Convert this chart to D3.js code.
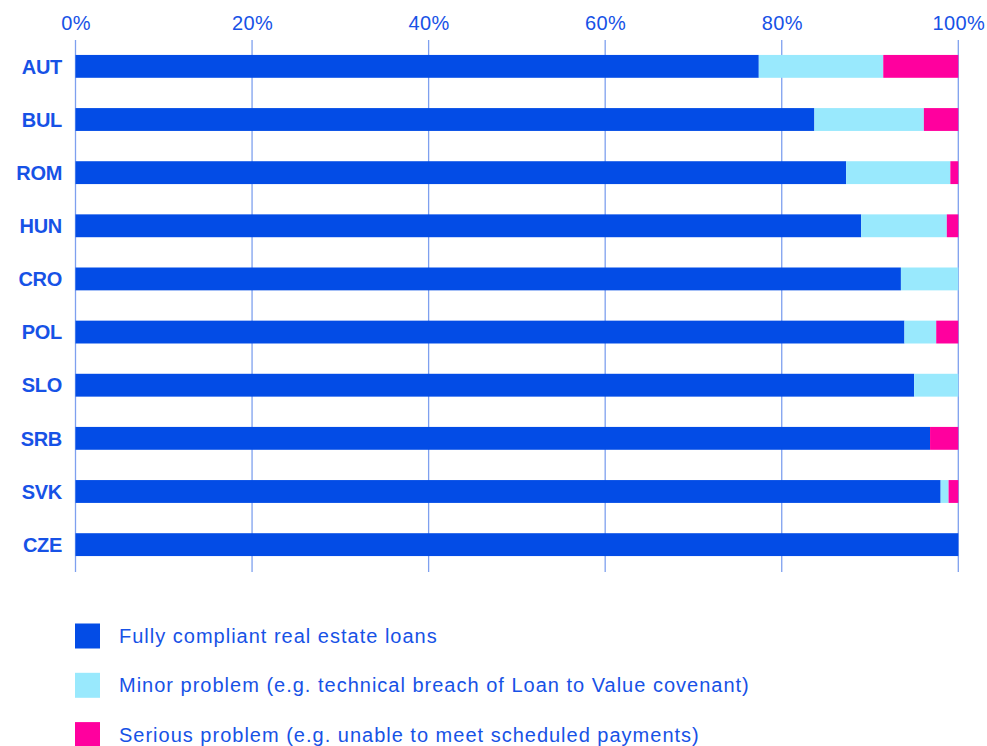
<!DOCTYPE html>
<html>
<head>
<meta charset="utf-8">
<script src="https://cdn.jsdelivr.net/npm/d3@7"></script>
<style>
  html, body { margin: 0; padding: 0; background: #fff; }
  svg { display: block; font-family: "Liberation Sans", Arial, sans-serif; }
</style>
</head>
<body>
<svg id="chart" width="987" height="746"></svg>
<script>
// Share of real estate loans by compliance status, per country (percent)
const countries = ["AUT", "BUL", "ROM", "HUN", "CRO", "POL", "SLO", "SRB", "SVK", "CZE"];
const fullyCompliant = [77.4, 83.7, 87.3, 89.0, 93.5, 93.9, 95.0, 96.8, 98.0, 100];
const minorProblem   = [14.1, 12.4, 11.8, 9.7, 6.5, 3.6, 5.0, 0.0, 0.9, 0];
const seriousProblem = [8.5, 3.9, 0.9, 1.3, 0.0, 2.5, 0.0, 3.2, 1.1, 0];
const tickValues = [0, 20, 40, 60, 80, 100];

const seriesKeys = ["full", "minor", "serious"];
const seriesNames = [
  "Fully compliant real estate loans",
  "Minor problem (e.g. technical breach of Loan to Value covenant)",
  "Serious problem (e.g. unable to meet scheduled payments)"
];
const colors = ["#034ce6", "#99e9fd", "#ff009e"];
const textColor = "#1752e6";
const gridColor = "#7ea0ef";

const rows = countries.map((c, i) => ({
  country: c,
  full: fullyCompliant[i],
  minor: minorProblem[i],
  serious: seriousProblem[i]
}));

const svg = d3.select("#chart");
const x = d3.scaleLinear().domain([0, 100]).range([75.5, 958.3]);
const y = d3.scaleBand().domain(countries).range([39, 572]).paddingInner(0.57).paddingOuter(0.3);

// vertical gridlines
svg.append("g")
  .selectAll("line")
  .data(tickValues)
  .join("line")
  .attr("x1", d => x(d)).attr("x2", d => x(d))
  .attr("y1", 40).attr("y2", 572)
  .attr("stroke", gridColor)
  .attr("stroke-width", 1.3);

// top axis labels
const xAxis = svg.append("g")
  .attr("transform", "translate(0,30)")
  .call(d3.axisTop(x).tickValues(tickValues).tickFormat(d => d + "%").tickSize(0).tickPadding(0));
xAxis.select(".domain").remove();
xAxis.selectAll("text")
  .attr("fill", textColor)
  .attr("font-size", 20)
  .attr("letter-spacing", 0.4)
  .attr("dy", "0");

// stacked bars
const stack = d3.stack().keys(seriesKeys);
const layers = stack(rows);
svg.append("g")
  .selectAll("g")
  .data(layers)
  .join("g")
  .attr("fill", (d, i) => colors[i])
  .selectAll("rect")
  .data(d => d)
  .join("rect")
  .attr("x", d => x(d[0]))
  .attr("width", d => Math.max(0, x(d[1]) - x(d[0])))
  .attr("y", d => y(d.data.country))
  .attr("height", y.bandwidth());

// category labels
const yAxis = svg.append("g")
  .attr("transform", "translate(62,0)")
  .call(d3.axisLeft(y).tickSize(0).tickPadding(0));
yAxis.select(".domain").remove();
yAxis.selectAll("text")
  .attr("fill", textColor)
  .attr("font-size", 20)
  .attr("font-weight", "bold")
  .attr("letter-spacing", -0.3)
  .attr("dy", "0.36em");

// legend
const legend = svg.append("g")
  .selectAll("g")
  .data(seriesNames)
  .join("g")
  .attr("transform", (d, i) => `translate(75,${623.5 + i * 49.3})`);
legend.append("rect")
  .attr("width", 25).attr("height", 25)
  .attr("fill", (d, i) => colors[i]);
legend.append("text")
  .attr("x", 44).attr("y", 12.5)
  .attr("dy", "0.36em")
  .attr("fill", textColor)
  .attr("font-size", 20)
  .attr("letter-spacing", 1.0)
  .text(d => d);
</script>
</body>
</html>
